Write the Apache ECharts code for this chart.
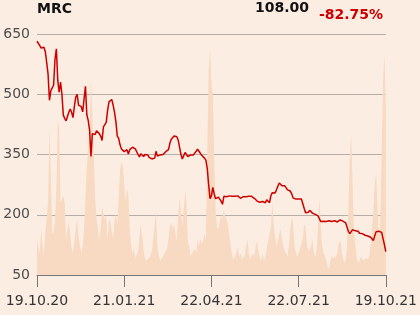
<!DOCTYPE html>
<html>
<head>
<meta charset="utf-8">
<script src="https://cdn.jsdelivr.net/npm/echarts@6/dist/echarts.min.js"></script>
<style>
html,body{margin:0;padding:0;background:#fcede2;}
#c{width:420px;height:315px;}
</style>
</head>
<body>
<div id="c"></div>
<script>
var tickLabels = ['19.10.20','21.01.21','22.04.21','22.07.21','19.10.21'];
var price = [
632,628,621,615,612,617,606,579,550,485,509,516,523,587,613,535,505,530,500,448,
440,434,436,455,463,455,442,470,493,500,473,474,469,456,460,520,449,435,410,345,
402,403,400,409,410,402,396,385,419,422,430,460,481,484,487,473,455,432,396,390,
374,364,366,357,355,362,351,362,366,368,366,364,361,350,344,352,349,345,350,351,
349,343,340,339,338,341,358,346,348,349,347,350,353,357,355,362,378,388,392,396,
396,394,386,368,350,339,342,355,358,345,348,349,347,349,352,358,363,358,355,348,
344,341,336,315,275,240,247,268,252,240,241,244,240,234,226,246,249,245,246,247,
244,246,247,246,245,247,243,241,244,245,244,245,247,246,245,246,246,241,238,234,
232,231,232,233,231,230,237,233,230,248,255,257,254,262,271,279,275,272,270,272,
267,262,264,259,252,242,240,239,239,239,240,239,235,216,205,208,206,211,208,204,
202,201,201,197,190,183,181,184,187,183,184,185,184,183,184,185,183,182,185,187,
185,184,183,180,169,158,153,152,163,166,160,160,159,154,153,153,151,149,148,147,
146,144,140,136,148,158,156,159,160,156,158,125,108
];
var volume = [
14.5,11,9,19,12,8,18,23,30,61,42,17,18,22,35,64,61,30,30,33,
30,14.5,19,22,17,11,9,14,19,23,16,12,9,12,19,32,45,54,60,81,
66,50,32,24,19,14.5,19,28,28,23,25,14.5,23,22,18,15,23,25,21,32,
43,47,45,38,30,36,33,19,12,9,11,7,7,10,16,21,16,10,7,6,
6,7,7.6,10,15,21,26,12,8,6,6,7.6,9,9,11,15,20,22,19,21,
17,14,25,32,32,20,27,35,30,13,12,8,7.6,10,11,9,14.5,12,15,13,
14,17,14.5,50,85,94,79,75,49,27,20,19,22,25,23,27,24,23,20,16,
12,8,6.5,6,9,12,7.6,9,6.5,6,8,12,14.5,9,6.5,8,9,7.6,12,14,
10,7,6,9,6,7.6,11,14,17,20,30,21,16,12,14,17,19,15,12,10,
9,7.6,12,19,24,22,12,9,7.6,9,11,13,15,21,20,13,10,10,12,14.5,
9,7.6,10,20,32,20,12,9,8,6,3.5,2.5,6,8,7,6.5,7.6,9,13,14.5,
11,7,5,6,12,28,50,58,37,17,12,7,5,6,7.6,7.6,6,7,6.5,6.5,
7.6,12,18,26,38,42,28,14.5,22,50,80,92,70
];
var categories = price.map(function(_, i){ return String(i); });
var step = (price.length - 1) / (tickLabels.length - 1);

var chart = echarts.init(document.getElementById('c'), null, {renderer:'canvas'});
chart.setOption({
  backgroundColor: '#fcede2',
  animation: false,
  grid: {left: 37, right: 34, top: 34, bottom: 40, containLabel: false},
  xAxis: {
    type: 'category',
    data: categories,
    boundaryGap: false,
    axisLine: {lineStyle: {color: '#777777', width: 1}},
    axisTick: {show: true, interval: step - 1, length: 12, lineStyle: {color: '#777777'}},
    axisLabel: {
      interval: step - 1, margin: 19, fontSize: 14, color: '#333333',
      fontFamily: 'DejaVu Sans',
      formatter: function(v, idx){ return tickLabels[Math.round(idx / step)]; }
    },
    splitLine: {show: false}
  },
  yAxis: [{
    type: 'value', min: 50, max: 650, interval: 150,
    axisLine: {show: false}, axisTick: {show: false},
    axisLabel: {fontSize: 14, color: '#4d4d4d', margin: 7, fontFamily: 'DejaVu Sans'},
    splitLine: {lineStyle: {color: '#b5aea8', width: 1}}
  }, {
    type: 'value', min: 0, max: 100, show: false, splitLine: {show: false}
  }],
  series: [{
    type: 'line', yAxisIndex: 1, data: volume, symbol: 'none', z: 1,
    lineStyle: {width: 0}, areaStyle: {color: '#f8d9c1', opacity: 1}
  }, {
    type: 'line', yAxisIndex: 0, data: price, symbol: 'none', z: 3,
    lineStyle: {color: '#cc0000', width: 1.5}
  }],
  graphic: [
    {type: 'text', left: 37, top: 2, style: {text: 'MRC', font: 'bold 14px "DejaVu Sans"', fill: '#111111'}},
    {type: 'text', left: 255, top: 1, style: {text: '108.00', font: 'bold 14px "DejaVu Sans"', fill: '#111111'}},
    {type: 'text', left: 319, top: 8, style: {text: '-82.75%', font: 'bold 14px "DejaVu Sans"', fill: '#cc0000'}}
  ]
});
</script>
</body>
</html>
